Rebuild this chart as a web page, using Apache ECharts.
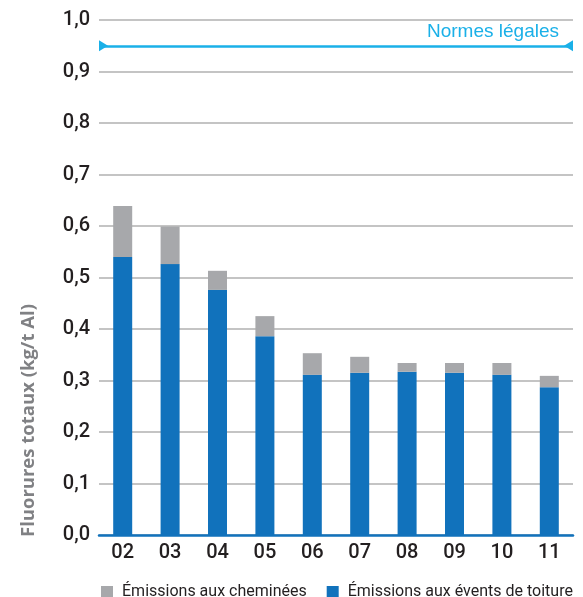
<!DOCTYPE html>
<html><head><meta charset="utf-8">
<script src="https://cdn.jsdelivr.net/npm/echarts@6/dist/echarts.min.js"></script>
<style>html,body{margin:0;padding:0;background:#fff}#c{width:583px;height:597px}</style>
</head><body><div id="c"></div>
<script>
const categories = ['02','03','04','05','06','07','08','09','10','11'];
const roofVents = [0.540,0.526,0.476,0.386,0.311,0.315,0.317,0.315,0.311,0.287];
const stacks = [0.099,0.073,0.037,0.039,0.042,0.031,0.017,0.019,0.023,0.022];
const legalNorm = 0.95;
const seriesNames = ['Émissions aux cheminées','Émissions aux évents de toiture'];
const normLabel = 'Normes légales';
const yAxisTitle = 'Fluorures totaux (kg/t Al)';

const chart = echarts.init(document.getElementById('c'));
chart.setOption({
  animation:false,
  grid:{left:99,right:10,top:20,bottom:62},
  legend:{
    bottom:-8,left:96,itemWidth:12,itemHeight:12,itemGap:20,icon:'rect',
    data:[seriesNames[0],seriesNames[1]],
    textStyle:{fontFamily:'Roboto',fontSize:16,color:'#231f20',padding:[0,0,0,4]}
  },
  xAxis:{
    type:'category',data:categories,
    axisLine:{lineStyle:{color:'#1172bc',width:2.5}},
    axisTick:{show:false},
    axisLabel:{fontFamily:'Roboto',fontWeight:500,fontSize:20,color:'#231f20',margin:8}
  },
  yAxis:{
    type:'value',min:0,max:1,interval:0.1,
    axisLine:{show:false},axisTick:{show:false},
    splitLine:{lineStyle:{color:'#b1b1b1',width:1.5}},
    axisLabel:{fontFamily:'Roboto',fontWeight:500,fontSize:20,color:'#231f20',margin:9,
      formatter:v=>v.toFixed(1).replace('.',',')}
  },
  graphic:[{
    type:'text',left:19,top:304,rotation:Math.PI/2,
    style:{text:yAxisTitle,fill:'#808184',font:'bold 18.5px "Open Sans"'}
  }],
  series:[
    {name:seriesNames[1],type:'bar',stack:'t',data:roofVents,barWidth:19,
     itemStyle:{color:'#1172bc'},
     markLine:{
       silent:true,symbol:['path://M0,0 L10,0 L5,10 Z','path://M0,0 L10,0 L5,10 Z'],
       symbolSize:[11,9],symbolOffset:[[0,4.5],[0,4.5]],
       lineStyle:{color:'#1ab0e8',width:2.5,type:'solid'},
       label:{show:true,position:'insideEndTop',formatter:normLabel,color:'#1ab0e8',
         fontFamily:'Liberation Sans',fontSize:19,distance:[14,4]},
       data:[{yAxis:legalNorm}]
     }},
    {name:seriesNames[0],type:'bar',stack:'t',data:stacks,barWidth:19,
     itemStyle:{color:'#a7a8ab'}}
  ]
});
</script></body></html>
